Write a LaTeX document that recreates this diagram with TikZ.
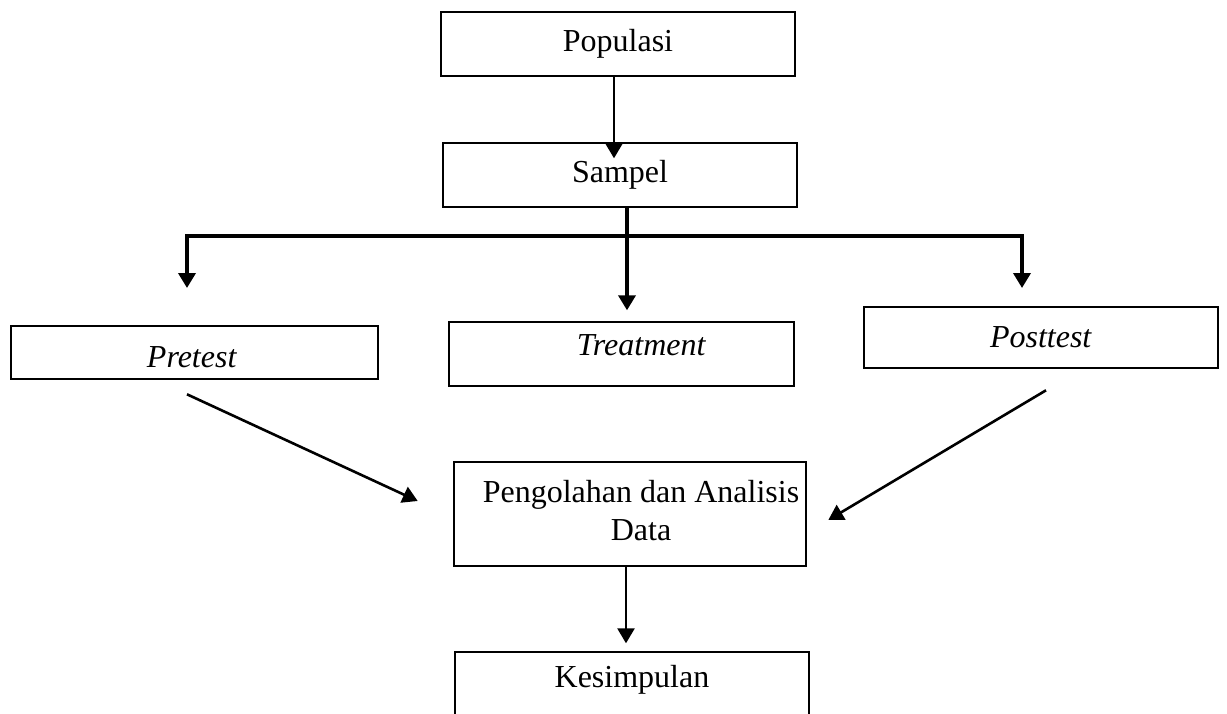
\documentclass[tikz,border=0pt]{standalone}
\usepackage{fontspec}
\setmainfont{Liberation Serif}
\usetikzlibrary{arrows.meta}
\tikzset{
  box/.style={draw, line width=1.3pt, minimum width=177pt, minimum height=32pt, inner sep=0pt},
  txt/.style={font=\fontsize{16}{19}\selectfont, align=center},
  arr/.style={line width=1.3pt, -{Triangle[length=7.5pt,width=8.5pt]}},
  bar/.style={line width=1.8pt, -{Triangle[length=7.5pt,width=8.5pt]}},
}

\begin{document}
\begin{tikzpicture}[x=0.5pt,y=-0.5pt]
  \useasboundingbox (0,0) rectangle (1227,713);

  %% boxes
  \node[box, txt] (pop) at (618,44) {Populasi};
  \node[box, txt] (samp) at (620,175) {Sampel};

  \node[box, minimum width=183.5pt, minimum height=26.5pt,
    label={[txt, xshift=-1.25pt, yshift=-2.25pt]center:\textit{Pretest}}] (pre) at (194.5,352.5) {};
  \node[box, minimum width=172.5pt,
    label={[txt, xshift=10pt, yshift=4.5pt]center:\textit{Treatment}}] (treat) at (621.5,354) {};
  \node[box, txt, minimum height=30.5pt] (post) at (1041,337.5) {\textit{Posttest}};

  \node[box, minimum width=176pt, minimum height=52pt,
    label={[txt, xshift=5.5pt, yshift=1.5pt]center:Pengolahan dan Analisis\\Data}] (anal) at (630,514) {};
  \node[box, label={[txt, yshift=2pt]center:Kesimpulan}] (kes) at (632,684) {};

  %% connectors
  \coordinate (bl) at (187,236);
  \coordinate (br) at (1022,236);

  \draw[arr] ([xshift=-2pt]pop.south) -- ++(0,81);
  \draw[bar] ([xshift=3.5pt]samp.south) -- ++(0,102);
  \draw[bar] (br) -- (bl) -- ++(0,52);
  \draw[bar] (bl) -- (br) -- ++(0,52);

  \draw[arr] ([xshift=-3.75pt,yshift=-7pt]pre.south) -- ([xshift=-17.5pt,yshift=6.5pt]anal.west);
  \draw[arr] ([xshift=2.5pt,yshift=-10.5pt]post.south) -- ([xshift=10.5pt,yshift=-3pt]anal.east);
  \draw[arr] ([xshift=-2pt]anal.south) -- ++(0,76);
\end{tikzpicture}
\end{document}
